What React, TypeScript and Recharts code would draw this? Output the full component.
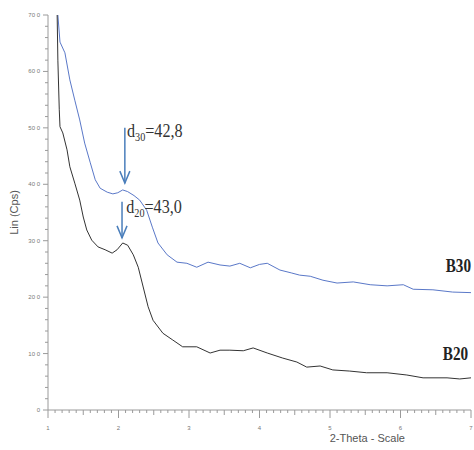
import { LineChart, Line, XAxis, YAxis, ReferenceLine, ReferenceDot, Label } from 'recharts';

// B30 trace (blue)
const b30X = [1.14, 1.17, 1.24, 1.31, 1.38, 1.45, 1.52, 1.6, 1.67, 1.74, 1.84, 1.92, 1.99, 2.06, 2.13, 2.22, 2.3, 2.4, 2.48, 2.56, 2.69, 2.83, 2.97, 3.11, 3.27, 3.44, 3.58, 3.72, 3.87, 4.0, 4.11, 4.29, 4.45, 4.57, 4.72, 4.9, 5.1, 5.33, 5.57, 5.81, 6.04, 6.18, 6.46, 6.74, 7.0];
const b30Y = [700, 652, 633, 585, 549, 514, 473, 438, 408, 393, 386, 383, 385, 390, 387, 380, 372, 354, 324, 296, 275, 262, 260, 253, 262, 257, 255, 260, 252, 258, 260, 248, 243, 239, 237, 230, 225, 227, 222, 220, 222, 214, 213, 209, 208];

// B20 trace (black)
const b20X = [1.13, 1.14, 1.16, 1.17, 1.21, 1.27, 1.31, 1.38, 1.45, 1.5, 1.55, 1.62, 1.71, 1.81, 1.91, 1.98, 2.06, 2.13, 2.21, 2.28, 2.35, 2.42, 2.49, 2.63, 2.77, 2.91, 3.11, 3.3, 3.44, 3.58, 3.77, 3.91, 4.11, 4.33, 4.53, 4.67, 4.86, 5.04, 5.28, 5.52, 5.81, 6.09, 6.32, 6.66, 6.84, 7.0];
const b20Y = [700, 620, 532, 502, 491, 461, 431, 402, 372, 342, 319, 301, 289, 284, 278, 284, 296, 292, 275, 253, 218, 183, 159, 136, 124, 112, 112, 101, 106, 106, 105, 110, 101, 92, 85, 76, 78, 71, 69, 66, 66, 62, 57, 57, 55, 57];

const xMajor = [1, 2, 3, 4, 5, 6, 7];
const yMajor = [0, 100, 200, 300, 400, 500, 600, 700];

// arrows: [x, yFrom, yTo]
const arrows = [
  [2.09, 500, 402],
  [2.05, 369, 305],
];
// d-spacing notes: [x, y, sub, value]
const notes = [
  [2.12, 484, '30', '=42,8'],
  [2.11, 349, '20', '=43,0'],
];
// series labels: [x, y, text]
const seriesLabels = [
  [7.0, 245, 'B30'],
  [6.96, 89, 'B20'],
];

const b30 = b30X.map((x, i) => ({ x, y: b30Y[i] }));
const b20 = b20X.map((x, i) => ({ x, y: b20Y[i] }));

const xTicks: number[] = [];
for (let i = 0; i < xMajor.length - 1; i++) {
  for (let k = 0; k < 10; k++) xTicks.push(+(xMajor[i] + k / 10).toFixed(1));
}
xTicks.push(xMajor[xMajor.length - 1]);
const yTicks: number[] = [];
for (let v = 0; v <= 700; v += 20) yTicks.push(v);

const AXIS = '#9a9a9a';
const TICK_TEXT = '#777';
const ARROW = '#4a7ebb';

const XTick = ({ x, y, payload }: any) => {
  const v = payload.value;
  const major = Math.abs(v - Math.round(v)) < 1e-6;
  const half = Math.abs(v * 2 - Math.round(v * 2)) < 1e-6;
  const len = major ? 8 : half ? 5 : 3;
  return (
    <g>
      <line x1={x} x2={x} y1={y} y2={y + len} stroke={AXIS} />
      {major && (
        <text x={x} y={y + 20} fontSize={6} textAnchor="middle" fill={TICK_TEXT} fontFamily="Liberation Sans">
          {v}
        </text>
      )}
    </g>
  );
};

const YTick = ({ x, y, payload }: any) => {
  const v = payload.value;
  const major = yMajor.includes(v);
  const len = major ? 5 : 3;
  return (
    <g>
      <line x1={x - len} x2={x} y1={y} y2={y} stroke={AXIS} />
      {major && (
        <text x={x - 8} y={y + 2} fontSize={6} textAnchor="end" fill={TICK_TEXT} fontFamily="Liberation Sans">
          {v === 0 ? '0' : `${v / 10} 0`}
        </text>
      )}
    </g>
  );
};

const Arrow = (p: any) => {
  const { x1, y1, x2, y2 } = p;
  const top = Math.min(y1, y2);
  const tip = Math.max(y1, y2);
  return (
    <g>
      <line x1={x1} x2={x2} y1={top} y2={tip} stroke={ARROW} strokeWidth={1.5} />
      <polyline points={`${x1 - 5},${tip - 12} ${x1},${tip} ${x1 + 5},${tip - 12}`} fill="none" stroke={ARROW} strokeWidth={1.5} />
    </g>
  );
};

export default function App() {
  return (
    <div style={{ position: 'absolute', left: 0, top: 0 }}>
      <LineChart width={474} height={450} margin={{ top: 15, right: 3, left: 8, bottom: 10 }}>
        <XAxis
          type="number"
          dataKey="x"
          domain={[1, 7]}
          ticks={xTicks}
          interval={0}
          height={30}
          tickSize={0}
          tickMargin={0}
          tick={<XTick />}
          stroke={AXIS}
          allowDataOverflow
        >
          <Label
            content={({ viewBox }: any) => (
              <text x={viewBox.x + viewBox.width * 0.755} y={viewBox.y + 32} textAnchor="middle" fontSize={11} fill="#555" fontFamily="Liberation Sans">
                2-Theta - Scale
              </text>
            )}
          />
        </XAxis>
        <YAxis
          type="number"
          domain={[0, 700]}
          ticks={yTicks}
          interval={0}
          width={40}
          tickSize={0}
          tickMargin={0}
          tick={<YTick />}
          stroke={AXIS}
          allowDataOverflow
        >
          <Label
            content={({ viewBox }: any) => {
              const cx = viewBox.x + viewBox.width - 30;
              const cy = viewBox.y + viewBox.height / 2;
              return (
                <text x={cx} y={cy} transform={`rotate(-90 ${cx} ${cy})`} textAnchor="middle" fontSize={11} fill="#555" fontFamily="Liberation Sans">
                  Lin (Cps)
                </text>
              );
            }}
          />
        </YAxis>
        <Line data={b30} dataKey="y" type="linear" stroke="#5a78c8" strokeWidth={1} dot={false} isAnimationActive={false} />
        <Line data={b20} dataKey="y" type="linear" stroke="#333333" strokeWidth={1} dot={false} isAnimationActive={false} />
        {arrows.map(([x, y1, y2], i) => (
          <ReferenceLine key={'a' + i} segment={[{ x, y: y1 }, { x, y: y2 }]} shape={<Arrow />} ifOverflow="visible" />
        ))}
        {notes.map(([x, y, sub, val], i) => (
          <ReferenceDot
            key={'n' + i}
            x={x as number}
            y={y as number}
            r={0}
            ifOverflow="visible"
            shape={(p: any) => (
              <g transform={`translate(${p.cx},${p.cy}) scale(0.85,1)`}>
                <text x={0} y={0} fontSize={19} fill="#333" fontFamily="Liberation Serif">
                  d<tspan fontSize={12} dy={4}>{sub}</tspan>
                  <tspan dy={-4}>{val}</tspan>
                </text>
              </g>
            )}
          />
        ))}
        {seriesLabels.map(([x, y, t], i) => (
          <ReferenceDot
            key={'s' + i}
            x={x as number}
            y={y as number}
            r={0}
            ifOverflow="visible"
            shape={(p: any) => (
              <g transform={`translate(${p.cx},${p.cy}) scale(0.8,1)`}>
                <text x={0} y={0} textAnchor="end" fontSize={19} fontWeight="bold" fill="#222" fontFamily="Liberation Serif">
                  {t}
                </text>
              </g>
            )}
          />
        ))}
      </LineChart>
    </div>
  );
}
